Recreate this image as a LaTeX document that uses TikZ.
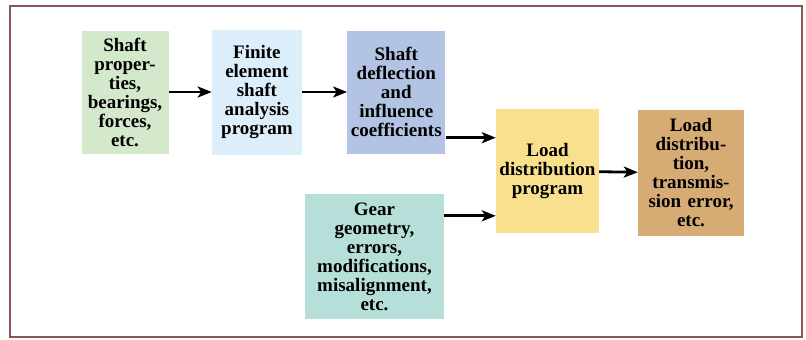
\documentclass[tikz,border=0pt]{standalone}
\usepackage{fontspec}
\setmainfont{Liberation Serif}
\usetikzlibrary{arrows.meta,positioning}

\definecolor{frame}{HTML}{8B5558}
\definecolor{cgreen}{HTML}{D4E8CB}
\definecolor{cblue}{HTML}{DCEEFA}
\definecolor{cperi}{HTML}{B2C3E3}
\definecolor{cyell}{HTML}{F8E08E}
\definecolor{ctan}{HTML}{D7AC74}
\definecolor{cteal}{HTML}{B6DFDA}

\begin{document}
\begin{tikzpicture}[x=1pt,y=-1pt,
    blk/.style = {font=\bfseries\fontsize{19}{19}\selectfont, align=center, inner sep=0pt},
    arr/.style = {-{Stealth[length=14pt,width=11pt,inset=3.5pt]}, line width=2.8pt}]
        \useasboundingbox (0,0) rectangle (806,340);
        \draw[frame, line width=2.5pt] (10,6) rectangle (802,337);

        % upper row
        \node[blk,fill=cgreen,minimum width=87pt,minimum height=123pt,text width=87pt] (props) at (125,92)
            {Shaft\\proper-\\ties,\\bearings,\\forces,\\etc.};
        \node[blk,fill=cblue,minimum width=90pt,minimum height=125pt,text width=90pt] (fem) [right=43pt of props]
            {Finite\\element\\shaft\\analysis\\program};
        \node[blk,fill=cperi,minimum width=98pt,minimum height=123pt,text width=98pt] (defl) [right=45pt of fem]
            {Shaft\\deflection\\and\\influence\\coefficients};

        % load distribution and results
        \node[blk,fill=cyell,minimum width=103pt,minimum height=124pt,text width=103pt] (ldp) at (547.5,171)
            {Load\\distribution\\program};
        \node[blk,fill=ctan,minimum width=106pt,minimum height=126pt,text width=106pt] (res) at (691,173)
            {Load\\distribu-\\tion,\\transmis-\\sion error,\\etc.};

        % gear data
        \node[blk,fill=cteal,minimum width=139pt,minimum height=125pt,text width=139pt] (gear) at (374.5,256.5)
            {Gear\\geometry,\\errors,\\modifications,\\misalignment,\\etc.};

        \draw[arr] (props) to (fem);
        \draw[arr] (fem) to (defl);
        \draw[arr] ([yshift=16pt]defl.south east) to ([yshift=16pt]defl.south east -| ldp.west);
        \draw[arr] ([yshift=-22pt]gear.north east) to ([yshift=-22pt]gear.north east -| ldp.west);
        \draw[arr] (ldp) to (res);
\end{tikzpicture}
\end{document}
